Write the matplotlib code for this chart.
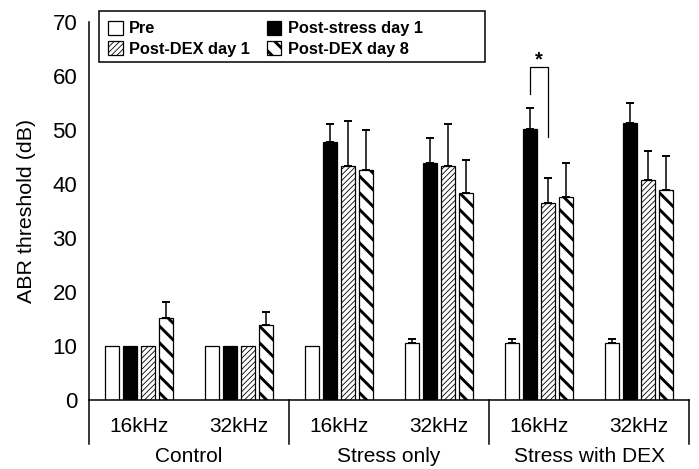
import matplotlib
matplotlib.use("Agg")
import matplotlib.pyplot as plt
import matplotlib.transforms as mtransforms
from matplotlib.patches import Rectangle
import numpy as np

plt.rcParams['font.family'] = ['Liberation Sans', 'DejaVu Sans']

# data
groups = ["Control", "Stress only", "Stress with DEX"]
freqs = ["16kHz", "32kHz", "16kHz", "32kHz", "16kHz", "32kHz"]
series = ["Pre", "Post-stress day 1", "Post-DEX day 1", "Post-DEX day 8"]

pre = [10, 10, 10, 10.5, 10.5, 10.5]
pre_err = [0, 0, 0, 0.7, 0.7, 0.7]
post_stress = [10, 10, 47.8, 43.9, 50.2, 51.4]
post_stress_err = [0, 0, 3.4, 4.7, 4.0, 3.7]
dex1 = [10, 10, 43.3, 43.3, 36.4, 40.8]
dex1_err = [0, 0, 8.4, 7.9, 4.8, 5.3]
dex8 = [15.2, 13.9, 42.6, 38.3, 37.6, 38.9]
dex8_err = [2.9, 2.4, 7.4, 6.1, 6.4, 6.4]


def hatch_lw(artist, lw):
    """
    Give one patch its own hatch line width.
    """
    if hasattr(artist, 'set_hatch_linewidth'):
        artist.set_hatch_linewidth(lw)
    orig = artist.draw

    def draw(renderer):
        with plt.rc_context({'hatch.linewidth': lw}):
            orig(renderer)
    artist.draw = draw


def add_bars(ax, x, vals, errs, face, hatch, hlw):
    bars = ax.bar(x, vals, width=0.147, color=face, edgecolor='black',
                  linewidth=0.9, hatch=hatch, zorder=2)
    for b in bars:
        hatch_lw(b, hlw)
    vals = np.array(vals, dtype=float)
    errs = np.array(errs, dtype=float)
    m = errs > 0
    if m.any():
        ax.errorbar(np.array(x)[m], vals[m], yerr=[np.zeros(m.sum()), errs[m]],
                    fmt='none', ecolor='black', elinewidth=1.1, capsize=2.9,
                    capthick=1.4, zorder=1)
    return bars


def main():
    fig = plt.figure(figsize=(6.99, 4.69), dpi=100)
    ax = fig.add_axes([89 / 699, 1 - 399.5 / 469, 600 / 699, 377 / 469])

    x = np.arange(len(freqs))
    pitch = 0.18
    styles = [
        (pre, pre_err, 'white', None, 1.0),
        (post_stress, post_stress_err, 'black', None, 1.0),
        (dex1, dex1_err, 'white', '//////', 0.6),
        (dex8, dex8_err, 'white', '\\\\', 2.1),
    ]
    handles = []
    for i, (v, e, face, hatch, hlw) in enumerate(styles):
        offs = (i - 1.5) * pitch
        handles.append(add_bars(ax, x + offs, v, e, face, hatch, hlw))

    ax.set_xlim(-0.5, 5.5)
    ax.set_ylim(0, 70)
    ax.set_yticks(range(0, 71, 10))
    ax.tick_params(axis='y', length=0, pad=8.5, labelsize=16)
    ax.set_xticks(x)
    ax.set_xticklabels(freqs)
    ax.tick_params(axis='x', length=0, pad=12.5, labelsize=15)
    ax.set_ylabel('ABR threshold (dB)', fontsize=15.4, labelpad=12)

    for s in ['top', 'right']:
        ax.spines[s].set_visible(False)
    ax.spines['left'].set_linewidth(1.1)
    ax.spines['bottom'].set_linewidth(1.1)

    # group separators below the axis
    trans = mtransforms.blended_transform_factory(ax.transData, ax.transAxes)
    for xs in [-0.5, 1.5, 3.5, 5.5]:
        ax.plot([xs, xs], [0, -44.5 / 377], color='black', lw=1.1,
                transform=trans, clip_on=False)
    for gi, g in enumerate(groups):
        ax.text(2 * gi + 0.5, -57 / 377, g, transform=trans, ha='center',
                va='center', fontsize=15)

    # significance bracket
    xl = 4 - 0.5 * pitch
    xr = 4 + 0.5 * pitch
    ax.plot([xl, xl, xr, xr], [56.8, 61.7, 61.7, 48.8], color='black',
            lw=0.9, zorder=3)
    ax.text(4.0, 62.0, '*', ha='center', va='baseline', fontsize=14.5,
            fontweight='bold')

    # legend with a hand-sized frame
    order = [0, 2, 1, 3]
    leg = fig.legend([handles[i] for i in order], [series[i] for i in order],
                     ncol=2, loc='upper left',
                     bbox_to_anchor=(108 / 699, 1 - 21 / 469),
                     frameon=False, borderpad=0, borderaxespad=0,
                     handlelength=0.9, handleheight=0.9, handletextpad=0.4,
                     columnspacing=1.0, labelspacing=0.3,
                     prop={'weight': 'bold', 'size': 11.8})
    hlws = [styles[i][4] for i in order]
    for h, lw in zip(leg.legend_handles, hlws):
        hatch_lw(h, lw)
    fig.patches.append(Rectangle((98.7 / 699, 1 - 62.3 / 469), 386.3 / 699,
                                 51.3 / 469, transform=fig.transFigure,
                                 fill=False, edgecolor='black', lw=1.1))

    fig.savefig('out.png', dpi=100)


if __name__ == "__main__":
    main()
